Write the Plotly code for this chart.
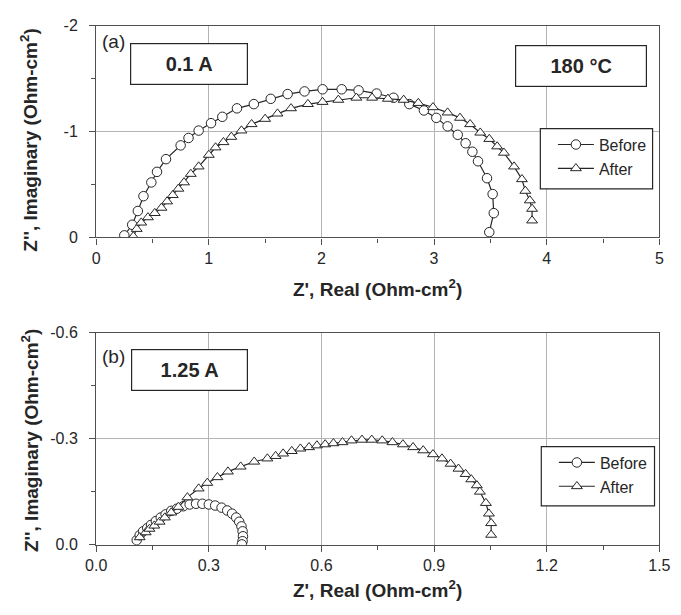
import plotly.graph_objects as go

# Panel (a): 0.1 A, 180 °C  -- Nyquist data (Z' real, Z'' imaginary), Ohm-cm²
a_before_re = [0.25, 0.32, 0.37, 0.42, 0.49, 0.54, 0.62, 0.75, 0.82, 0.91, 1.02, 1.12, 1.25,
               1.40, 1.55, 1.70, 1.85, 2.01, 2.18, 2.33, 2.49, 2.64, 2.78, 2.91, 3.02, 3.12,
               3.21, 3.28, 3.34, 3.39, 3.47, 3.52, 3.53, 3.49]
a_before_im = [-0.02, -0.12, -0.25, -0.39, -0.52, -0.62, -0.74, -0.87, -0.94, -1.01, -1.08,
               -1.14, -1.22, -1.26, -1.31, -1.355, -1.38, -1.40, -1.40, -1.39, -1.36, -1.32,
               -1.26, -1.20, -1.13, -1.05, -0.97, -0.89, -0.81, -0.72, -0.56, -0.41, -0.23, -0.05]
a_after_re = [0.33, 0.36, 0.40, 0.46, 0.52, 0.58, 0.63, 0.68, 0.73, 0.78, 0.84, 0.91, 1.00,
              1.06, 1.13, 1.20, 1.29, 1.38, 1.50, 1.61, 1.73, 1.88, 2.01, 2.15, 2.31, 2.45,
              2.59, 2.73, 2.86, 2.99, 3.12, 3.23, 3.32, 3.41, 3.49, 3.56, 3.62, 3.71, 3.78,
              3.81, 3.85, 3.87, 3.87]
a_after_im = [-0.01, -0.08, -0.14, -0.19, -0.23, -0.28, -0.34, -0.40, -0.46, -0.52, -0.60,
              -0.67, -0.78, -0.85, -0.90, -0.95, -1.01, -1.07, -1.12, -1.17, -1.22, -1.26,
              -1.28, -1.30, -1.32, -1.32, -1.31, -1.30, -1.27, -1.23, -1.18, -1.13, -1.07,
              -0.99, -0.93, -0.86, -0.80, -0.67, -0.55, -0.44, -0.35, -0.27, -0.16]

# Panel (b): 1.25 A
b_before_re = [0.108, 0.116, 0.125, 0.136, 0.146, 0.159, 0.172, 0.185, 0.200, 0.215, 0.232,
               0.249, 0.266, 0.283, 0.300, 0.317, 0.334, 0.349, 0.362, 0.373, 0.381, 0.387,
               0.390, 0.391, 0.390, 0.388]
b_before_im = [-0.013, -0.027, -0.038, -0.047, -0.056, -0.067, -0.077, -0.086, -0.096, -0.102,
               -0.109, -0.114, -0.116, -0.116, -0.114, -0.111, -0.105, -0.097, -0.088, -0.077,
               -0.065, -0.052, -0.038, -0.024, -0.010, -0.001]
b_after_re = [0.116, 0.132, 0.142, 0.155, 0.169, 0.183, 0.200, 0.219, 0.243, 0.273, 0.296,
              0.323, 0.351, 0.385, 0.421, 0.456, 0.478, 0.498, 0.521, 0.544, 0.567, 0.588,
              0.610, 0.632, 0.656, 0.680, 0.708, 0.734, 0.762, 0.789, 0.817, 0.844, 0.871,
              0.897, 0.921, 0.944, 0.965, 0.984, 0.999, 1.014, 1.022, 1.038, 1.046, 1.052, 1.052]
b_after_im = [-0.021, -0.035, -0.045, -0.054, -0.065, -0.077, -0.091, -0.107, -0.134, -0.159,
              -0.175, -0.191, -0.207, -0.221, -0.235, -0.244, -0.251, -0.258, -0.265, -0.272,
              -0.276, -0.281, -0.284, -0.287, -0.290, -0.295, -0.297, -0.297, -0.295, -0.290,
              -0.284, -0.276, -0.267, -0.256, -0.244, -0.229, -0.215, -0.200, -0.185, -0.168,
              -0.150, -0.118, -0.088, -0.061, -0.028]

# Tick values / labels
a_xticks = [0, 1, 2, 3, 4, 5]
a_xlabels = ["0", "1", "2", "3", "4", "5"]
a_yticks = [-2, -1, 0]
a_ylabels = ["-2", "-1", "0"]
b_xticks = [0.0, 0.3, 0.6, 0.9, 1.2, 1.5]
b_xlabels = ["0.0", "0.3", "0.6", "0.9", "1.2", "1.5"]
b_yticks = [-0.6, -0.3, 0.0]
b_ylabels = ["-0.6", "-0.3", "0.0"]

series_names = ["Before", "After"]

W, H = 681, 615
FONT = "Liberation Sans, Arial, sans-serif"
INK = "#262626"
FRAME = "#505050"
GRID = "#b4b4b4"


def px(x):
    return x / W


def py(y):
    return 1 - y / H


fig = go.Figure()

marker_circle = dict(symbol="circle", size=9.5, color="white", line=dict(color=INK, width=1))
marker_tri = dict(symbol="triangle-up", size=9.5, color="white", line=dict(color=INK, width=1))
trace_line = dict(color=INK, width=1.2)

fig.add_trace(go.Scatter(x=a_before_re, y=a_before_im, mode="lines+markers", name=series_names[0],
                         line=trace_line, marker=marker_circle, legendgroup="a1",
                         xaxis="x", yaxis="y", legend="legend"))
fig.add_trace(go.Scatter(x=a_after_re, y=a_after_im, mode="lines+markers", name=series_names[1],
                         line=trace_line, marker=marker_tri, legendgroup="a2",
                         xaxis="x", yaxis="y", legend="legend"))
fig.add_trace(go.Scatter(x=b_before_re, y=b_before_im, mode="lines+markers", name=series_names[0],
                         line=trace_line, marker=marker_circle, legendgroup="b1",
                         xaxis="x2", yaxis="y2", legend="legend2"))
fig.add_trace(go.Scatter(x=b_after_re, y=b_after_im, mode="lines+markers", name=series_names[1],
                         line=trace_line, marker=marker_tri, legendgroup="b2",
                         xaxis="x2", yaxis="y2", legend="legend2"))

x_dom = [px(88), px(670)]
common_axis = dict(showline=True, linecolor=FRAME, linewidth=1.2, mirror=True,
                   showgrid=True, gridcolor=GRID, gridwidth=1, zeroline=False,
                   ticks="outside", ticklen=6, tickcolor=FRAME, tickwidth=1,
                   tickfont=dict(family=FONT, size=16, color=INK))


def minor(step):
    return dict(ticks="outside", ticklen=4, dtick=step, tick0=0, tickcolor=FRAME, showgrid=False)


legend_style = dict(xanchor="left", yanchor="top", bgcolor="rgba(0,0,0,0)", borderwidth=0,
                    font=dict(family=FONT, size=16, color=INK), itemwidth=36,
                    tracegroupgap=0)

fig.update_layout(
    width=W, height=H,
    margin=dict(l=0, r=0, t=0, b=0),
    paper_bgcolor="white", plot_bgcolor="white",
    showlegend=True,
    xaxis=dict(domain=x_dom, range=[0, 5], tickvals=a_xticks, ticktext=a_xlabels,
               minor=minor(0.5), anchor="y", **common_axis),
    yaxis=dict(domain=[py(236), py(18.3)], range=[0, -2], tickvals=a_yticks, ticktext=a_ylabels,
               minor=minor(0.5), anchor="x", ticklabelstandoff=8, **common_axis),
    xaxis2=dict(domain=x_dom, range=[0, 1.5], tickvals=b_xticks, ticktext=b_xlabels,
                minor=minor(0.15), anchor="y2", **common_axis),
    yaxis2=dict(domain=[py(552), py(334)], range=[0, -0.6], tickvals=b_yticks, ticktext=b_ylabels,
                minor=minor(0.15), anchor="x2", ticklabelstandoff=8, **common_axis),
    legend=dict(x=px(560), y=py(123), **legend_style),
    legend2=dict(x=px(561), y=py(450), **legend_style),
)

# legend frames
for x0, y0, x1, y1 in [(547, 124, 663, 186), (548, 451, 665, 512)]:
    fig.add_shape(type="rect", xref="paper", yref="paper",
                  x0=px(x0), x1=px(x1), y0=py(y1), y1=py(y0),
                  line=dict(color=INK, width=1.2), fillcolor="white", layer="above")

xtitle = "<b>Z', Real (Ohm-cm<sup>2</sup>)</b>"
ytitle = "<b>Z'', Imaginary (Ohm-cm<sup>2</sup>)</b>"
title_font = dict(family=FONT, size=19, color=INK)
box_font = dict(family=FONT, size=20, color=INK)

annotations = [
    # axis titles
    dict(x=px(379), y=py(288), text=xtitle, font=title_font),
    dict(x=px(379), y=py(598), text=xtitle, font=title_font),
    dict(x=px(19), y=py(136), text=ytitle, font=title_font, textangle=-90),
    dict(x=px(19), y=py(445), text=ytitle, font=title_font, textangle=-90),
    # panel letters
    dict(x=px(106), y=py(34), text="(a)", font=dict(family=FONT, size=19, color=INK)),
    dict(x=px(106), y=py(358), text="(b)", font=dict(family=FONT, size=19, color=INK)),
    # condition boxes
    dict(x=px(183.5), y=py(58), text="<b>0.1 A</b>", font=box_font,
         width=114, height=38, bordercolor=INK, borderwidth=1.2, borderpad=1, bgcolor="white"),
    dict(x=px(589.5), y=py(59.5), text="<b>180 °C</b>", font=box_font,
         width=128, height=38, bordercolor=INK, borderwidth=1.2, borderpad=1, bgcolor="white"),
    dict(x=px(184), y=py(372), text="<b>1.25 A</b>", font=box_font,
         width=113, height=38, bordercolor=INK, borderwidth=1.2, borderpad=1, bgcolor="white"),
]
for a in annotations:
    a.update(xref="paper", yref="paper", showarrow=False, xanchor="center", yanchor="middle")
fig.update_layout(annotations=annotations)

fig.write_html("out.html")
